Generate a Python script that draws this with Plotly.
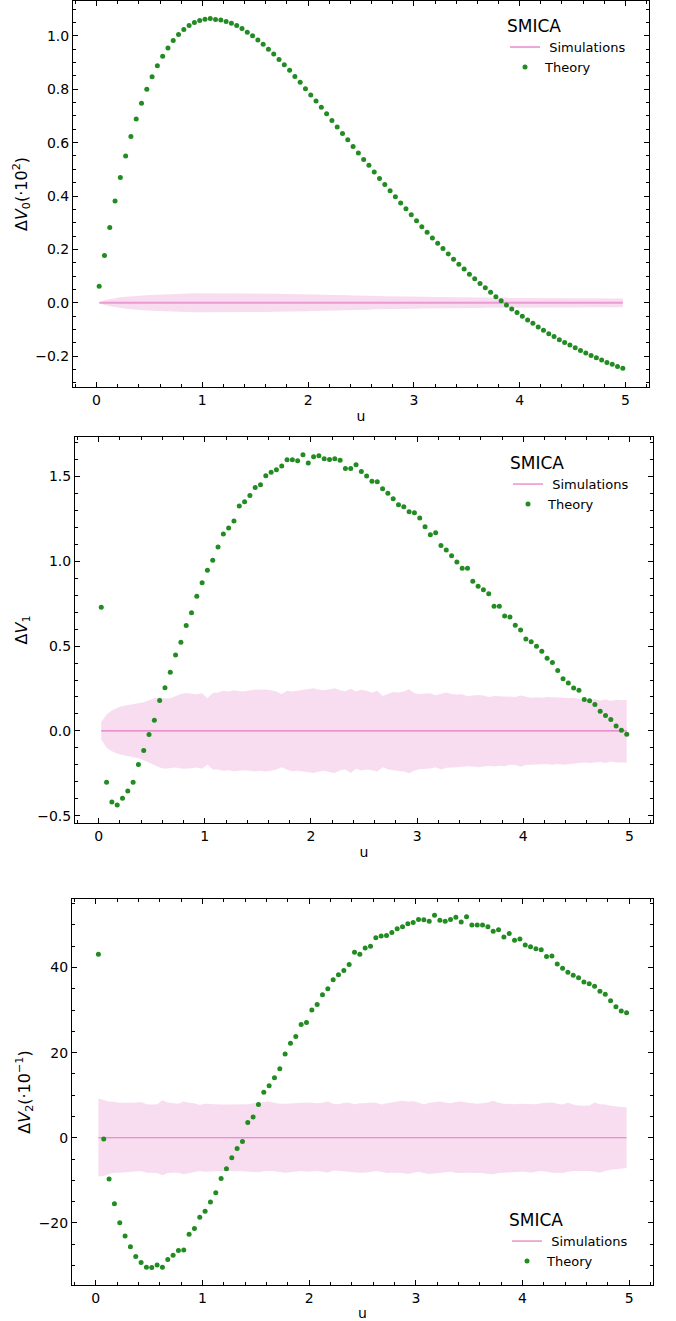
import plotly.graph_objects as go

# ---------------- data ----------------
u = [0.025, 0.075, 0.125, 0.175, 0.225, 0.275, 0.325, 0.375, 0.425, 0.475,
     0.525, 0.575, 0.625, 0.675, 0.725, 0.775, 0.825, 0.875, 0.925, 0.975,
     1.025, 1.075, 1.125, 1.175, 1.225, 1.275, 1.325, 1.375, 1.425, 1.475,
     1.525, 1.575, 1.625, 1.675, 1.725, 1.775, 1.825, 1.875, 1.925, 1.975,
     2.025, 2.075, 2.125, 2.175, 2.225, 2.275, 2.325, 2.375, 2.425, 2.475,
     2.525, 2.575, 2.625, 2.675, 2.725, 2.775, 2.825, 2.875, 2.925, 2.975,
     3.025, 3.075, 3.125, 3.175, 3.225, 3.275, 3.325, 3.375, 3.425, 3.475,
     3.525, 3.575, 3.625, 3.675, 3.725, 3.775, 3.825, 3.875, 3.925, 3.975,
     4.025, 4.075, 4.125, 4.175, 4.225, 4.275, 4.325, 4.375, 4.425, 4.475,
     4.525, 4.575, 4.625, 4.675, 4.725, 4.775, 4.825, 4.875, 4.925, 4.975]

# Panel 1: Delta V0 (x10^2)
theory_v0 = [0.062, 0.177, 0.282, 0.381, 0.469, 0.550, 0.623, 0.689, 0.748, 0.800,
             0.847, 0.888, 0.924, 0.955, 0.983, 1.005, 1.024, 1.039, 1.050, 1.058,
             1.063, 1.065, 1.062, 1.060, 1.054, 1.048, 1.039, 1.028, 1.014, 1.001,
             0.985, 0.969, 0.950, 0.932, 0.912, 0.892, 0.871, 0.848, 0.826, 0.802,
             0.779, 0.756, 0.733, 0.708, 0.683, 0.659, 0.634, 0.611, 0.586, 0.561,
             0.537, 0.515, 0.490, 0.466, 0.443, 0.420, 0.397, 0.374, 0.352, 0.330,
             0.307, 0.285, 0.264, 0.243, 0.223, 0.203, 0.183, 0.163, 0.144, 0.126,
             0.107, 0.090, 0.072, 0.056, 0.039, 0.022, 0.007, -0.009, -0.024, -0.037,
             -0.051, -0.065, -0.077, -0.091, -0.103, -0.116, -0.127, -0.139, -0.149, -0.159,
             -0.169, -0.179, -0.189, -0.198, -0.206, -0.215, -0.224, -0.231, -0.239, -0.246]
sim_mean_v0 = [0.0] * 100
sim_hi_v0 = [0.000, 0.009, 0.013, 0.017, 0.020, 0.022, 0.024, 0.026, 0.027, 0.028,
             0.029, 0.030, 0.031, 0.032, 0.033, 0.033, 0.034, 0.034, 0.035, 0.035,
             0.035, 0.035, 0.036, 0.036, 0.036, 0.036, 0.036, 0.036, 0.035, 0.035,
             0.035, 0.035, 0.034, 0.034, 0.034, 0.033, 0.033, 0.033, 0.032, 0.032,
             0.031, 0.031, 0.030, 0.030, 0.029, 0.029, 0.028, 0.028, 0.027, 0.027,
             0.026, 0.026, 0.025, 0.025, 0.024, 0.024, 0.024, 0.023, 0.023, 0.023,
             0.022, 0.022, 0.022, 0.021, 0.021, 0.021, 0.021, 0.020, 0.020, 0.020,
             0.020, 0.020, 0.019, 0.019, 0.019, 0.019, 0.019, 0.019, 0.018, 0.018,
             0.018, 0.018, 0.018, 0.018, 0.018, 0.017, 0.017, 0.017, 0.017, 0.017,
             0.017, 0.017, 0.017, 0.017, 0.017, 0.016, 0.016, 0.016, 0.016, 0.016]
sim_lo_v0 = [0.000, -0.009, -0.013, -0.017, -0.020, -0.023, -0.025, -0.027, -0.028, -0.029,
             -0.030, -0.031, -0.032, -0.033, -0.034, -0.034, -0.035, -0.035, -0.036, -0.036,
             -0.036, -0.037, -0.037, -0.037, -0.037, -0.037, -0.037, -0.036, -0.036, -0.036,
             -0.036, -0.035, -0.035, -0.034, -0.034, -0.034, -0.033, -0.033, -0.032, -0.032,
             -0.031, -0.031, -0.030, -0.030, -0.029, -0.029, -0.028, -0.028, -0.027, -0.027,
             -0.026, -0.026, -0.025, -0.025, -0.025, -0.024, -0.024, -0.024, -0.023, -0.023,
             -0.023, -0.022, -0.022, -0.022, -0.021, -0.021, -0.021, -0.021, -0.020, -0.020,
             -0.020, -0.020, -0.020, -0.019, -0.019, -0.019, -0.019, -0.019, -0.019, -0.018,
             -0.018, -0.018, -0.018, -0.018, -0.018, -0.018, -0.018, -0.017, -0.017, -0.017,
             -0.017, -0.017, -0.017, -0.017, -0.017, -0.017, -0.017, -0.017, -0.017, -0.017]

# Panel 2: Delta V1
theory_v1 = [0.729, -0.303, -0.420, -0.438, -0.397, -0.354, -0.303, -0.198, -0.116, -0.022,
             0.063, 0.179, 0.255, 0.346, 0.448, 0.523, 0.621, 0.697, 0.794, 0.874,
             0.947, 1.006, 1.084, 1.161, 1.196, 1.238, 1.326, 1.352, 1.389, 1.436,
             1.452, 1.505, 1.525, 1.540, 1.562, 1.599, 1.599, 1.593, 1.629, 1.580,
             1.617, 1.623, 1.605, 1.601, 1.605, 1.597, 1.548, 1.548, 1.570, 1.530,
             1.503, 1.472, 1.470, 1.428, 1.401, 1.369, 1.334, 1.322, 1.293, 1.287,
             1.255, 1.204, 1.157, 1.169, 1.094, 1.067, 1.033, 0.996, 0.959, 0.959,
             0.882, 0.853, 0.833, 0.809, 0.735, 0.735, 0.678, 0.672, 0.623, 0.595,
             0.542, 0.525, 0.499, 0.470, 0.428, 0.403, 0.356, 0.308, 0.283, 0.253,
             0.240, 0.185, 0.177, 0.155, 0.116, 0.090, 0.067, 0.029, 0.004, -0.020]
sim_mean_v1 = [0.0] * 100
sim_hi_v1 = [0.053, 0.096, 0.120, 0.136, 0.147, 0.153, 0.157, 0.161, 0.169, 0.181,
             0.193, 0.198, 0.191, 0.193, 0.204, 0.218, 0.224, 0.222, 0.216, 0.222,
             0.193, 0.224, 0.226, 0.236, 0.232, 0.240, 0.234, 0.234, 0.240, 0.244,
             0.242, 0.244, 0.240, 0.232, 0.218, 0.236, 0.232, 0.236, 0.240, 0.248,
             0.251, 0.242, 0.240, 0.246, 0.251, 0.240, 0.234, 0.248, 0.232, 0.242,
             0.236, 0.225, 0.236, 0.206, 0.220, 0.230, 0.226, 0.232, 0.246, 0.222,
             0.218, 0.220, 0.222, 0.210, 0.216, 0.226, 0.218, 0.214, 0.216, 0.204,
             0.208, 0.212, 0.208, 0.200, 0.206, 0.204, 0.200, 0.202, 0.200, 0.208,
             0.200, 0.196, 0.198, 0.196, 0.200, 0.198, 0.194, 0.196, 0.194, 0.196,
             0.190, 0.182, 0.184, 0.186, 0.178, 0.186, 0.176, 0.184, 0.180, 0.184]
sim_lo_v1 = [-0.051, -0.100, -0.120, -0.134, -0.143, -0.149, -0.155, -0.161, -0.173, -0.189,
             -0.204, -0.216, -0.224, -0.220, -0.216, -0.222, -0.224, -0.220, -0.216, -0.224,
             -0.198, -0.228, -0.228, -0.236, -0.232, -0.238, -0.236, -0.232, -0.236, -0.240,
             -0.236, -0.240, -0.236, -0.228, -0.214, -0.230, -0.238, -0.236, -0.240, -0.244,
             -0.248, -0.240, -0.236, -0.244, -0.248, -0.232, -0.228, -0.248, -0.224, -0.234,
             -0.228, -0.232, -0.240, -0.214, -0.226, -0.232, -0.236, -0.240, -0.250, -0.234,
             -0.226, -0.226, -0.222, -0.214, -0.228, -0.218, -0.218, -0.214, -0.212, -0.208,
             -0.210, -0.214, -0.210, -0.206, -0.210, -0.206, -0.208, -0.200, -0.202, -0.212,
             -0.202, -0.200, -0.202, -0.200, -0.196, -0.200, -0.196, -0.200, -0.196, -0.194,
             -0.192, -0.186, -0.190, -0.188, -0.184, -0.190, -0.180, -0.186, -0.184, -0.186]

# Panel 3: Delta V2 (x10^-1)
theory_v2 = [43.1, -0.3, -9.7, -15.5, -20.0, -23.1, -25.6, -27.9, -29.3, -30.4,
             -30.5, -29.9, -30.4, -28.6, -27.6, -26.5, -26.4, -22.7, -21.3, -18.7,
             -17.3, -15.1, -12.9, -9.6, -7.3, -4.7, -2.5, -0.9, 3.6, 4.9,
             7.8, 10.7, 12.2, 14.1, 16.2, 19.7, 22.2, 23.8, 26.6, 27.1,
             30.0, 31.3, 33.6, 35.0, 37.1, 38.3, 39.3, 40.7, 43.6, 43.1,
             44.6, 45.0, 47.0, 47.4, 47.5, 48.2, 49.1, 49.6, 50.3, 50.6,
             51.3, 51.2, 50.9, 52.3, 51.1, 50.9, 51.3, 51.8, 50.7, 51.9,
             50.0, 50.0, 50.0, 49.6, 48.5, 48.9, 47.2, 48.0, 46.4, 46.7,
             45.3, 44.9, 44.4, 44.2, 42.6, 42.7, 40.8, 39.8, 38.9, 38.2,
             37.6, 36.6, 36.2, 35.6, 34.4, 33.7, 32.2, 30.8, 29.8, 29.4]
sim_mean_v2 = [0.0] * 100
sim_hi_v2 = [9.2, 8.9, 8.5, 8.4, 8.2, 8.2, 8.2, 8.3, 8.4, 7.9,
             7.8, 7.9, 8.8, 8.3, 8.1, 8.0, 8.5, 8.2, 8.1, 7.7,
             8.0, 7.9, 7.8, 7.8, 7.8, 7.8, 7.8, 7.9, 7.9, 8.1,
             8.2, 8.4, 8.5, 8.2, 8.0, 8.0, 8.1, 8.1, 8.2, 8.3,
             8.2, 8.1, 8.2, 8.5, 8.0, 7.9, 8.2, 8.2, 7.9, 8.1,
             8.1, 8.3, 8.2, 7.8, 8.1, 8.3, 8.5, 8.7, 8.5, 8.6,
             8.3, 7.8, 8.2, 8.3, 8.5, 8.3, 8.1, 8.4, 8.5, 8.3,
             8.2, 8.0, 8.1, 8.3, 8.7, 8.2, 8.0, 7.9, 7.9, 8.0,
             8.0, 7.9, 7.9, 8.1, 8.2, 8.3, 8.0, 7.8, 8.2, 7.8,
             7.6, 7.5, 7.6, 8.3, 7.9, 7.8, 7.5, 7.4, 7.2, 7.1]
sim_lo_v2 = [-9.1, -9.0, -8.5, -8.2, -8.2, -8.1, -8.0, -7.9, -7.8, -8.2,
             -8.3, -8.3, -8.8, -8.3, -8.2, -8.2, -8.6, -8.3, -8.1, -7.8,
             -8.0, -7.9, -7.8, -7.8, -7.8, -7.8, -7.8, -7.9, -8.0, -8.1,
             -8.1, -7.9, -7.8, -7.9, -8.0, -8.2, -8.1, -8.0, -7.8, -8.0,
             -7.9, -7.8, -8.0, -8.2, -7.7, -7.8, -8.0, -8.0, -8.2, -8.2,
             -8.2, -8.0, -7.8, -8.0, -8.3, -8.2, -8.2, -8.3, -8.5, -8.2,
             -8.0, -8.3, -8.5, -8.4, -8.3, -8.2, -8.0, -8.2, -8.3, -8.2,
             -8.2, -8.2, -8.3, -8.5, -8.6, -8.3, -8.2, -8.1, -8.0, -8.0,
             -8.0, -8.2, -8.0, -7.8, -8.0, -8.2, -8.2, -8.3, -8.0, -7.8,
             -7.8, -7.8, -7.8, -8.0, -8.2, -7.8, -7.5, -7.4, -7.2, -7.1]

x_ticks = [0, 1, 2, 3, 4, 5]
panel_titles = ["Δ<i>V</i><sub>0</sub>(·10<sup>2</sup>)",
                "Δ<i>V</i><sub>1</sub>",
                "Δ<i>V</i><sub>2</sub>(·10<sup>−1</sup>)"]
legend_title = "SMICA"
sim_label = "\u00a0Simulations"
theory_label = "Theory"

# ---------------- styling ----------------
W, H = 676, 1321
FONT = "DejaVu Sans"
PINK = "#e377c2"
BAND = "rgba(227,119,194,0.25)"
GREEN = "#228B22"

panels = [
    dict(theory=theory_v0, mean=sim_mean_v0, hi=sim_hi_v0, lo=sim_lo_v0,
         box=(73, 649, 1, 387), yr=[-0.316, 1.131], dt=0.2, mdt=0.05, fmt=".1f",
         line=dict(color="rgba(227,119,194,0.65)", width=2), leg=(505, 10), so=3),
    dict(theory=theory_v1, mean=sim_mean_v1, hi=sim_hi_v1, lo=sim_lo_v1,
         box=(75, 653, 437, 823), yr=[-0.5435, 1.7335], dt=0.5, mdt=0.1, fmt=".1f",
         line=dict(color=PINK, width=1.2), leg=(508, 447), so=5),
    dict(theory=theory_v2, mean=sim_mean_v2, hi=sim_hi_v2, lo=sim_lo_v2,
         box=(72, 653, 899, 1285), yr=[-34.6, 56.1], dt=20, mdt=5, fmt="d",
         line=dict(color=PINK, width=1.2), leg=(507, 1204), so=4),
]

fig = go.Figure()
layout = dict(width=W, height=H, margin=dict(l=0, r=0, t=0, b=0),
              paper_bgcolor="white", plot_bgcolor="white",
              font=dict(family=FONT, size=14, color="black"),
              showlegend=True)

for i, p in enumerate(panels):
    n = "" if i == 0 else str(i + 1)
    xa, ya = "x" + n, "y" + n
    legname = "legend" + n
    fig.add_trace(go.Scatter(x=u, y=p["hi"], mode="lines", line=dict(width=0, color=BAND),
                             showlegend=False, hoverinfo="skip", xaxis=xa, yaxis=ya))
    fig.add_trace(go.Scatter(x=u, y=p["lo"], mode="lines", line=dict(width=0, color=BAND),
                             fill="tonexty", fillcolor=BAND,
                             showlegend=False, hoverinfo="skip", xaxis=xa, yaxis=ya))
    fig.add_trace(go.Scatter(x=u, y=p["mean"], mode="lines", line=p["line"],
                             name=sim_label, legend=legname, xaxis=xa, yaxis=ya))
    fig.add_trace(go.Scatter(x=u, y=p["theory"], mode="markers",
                             marker=dict(color=GREEN, size=5, line=dict(width=0)),
                             name=theory_label, legend=legname, xaxis=xa, yaxis=ya))

    l, r, t, b = p["box"]
    common = dict(showline=True, linecolor="black", linewidth=1, mirror="allticks",
                  ticks="inside", ticklen=5, tickwidth=1, tickcolor="black",
                  showgrid=False, zeroline=False,
                  tickfont=dict(family=FONT, size=14, color="black"))
    layout["xaxis" + n] = dict(common, domain=[l / W, r / W], anchor=ya,
                               range=[-0.2225, 5.2225], tickmode="array",
                               tickvals=x_ticks, ticktext=[str(v) for v in x_ticks],
                               minor=dict(dtick=0.2, tick0=0, ticks="inside", ticklen=3,
                                          tickcolor="black", tickwidth=1),
                               title=dict(text="u", font=dict(family=FONT, size=14), standoff=4))
    layout["yaxis" + n] = dict(common, domain=[1 - b / H, 1 - t / H], anchor=xa,
                               range=p["yr"], dtick=p["dt"], tick0=0, tickformat=p["fmt"],
                               minor=dict(dtick=p["mdt"], tick0=0, ticks="inside", ticklen=3,
                                          tickcolor="black", tickwidth=1),
                               title=dict(text=panel_titles[i], font=dict(family=FONT, size=16),
                                          standoff=p["so"]))
    lx, ly = p["leg"]
    layout[legname] = dict(x=lx / W, y=1 - ly / H, xanchor="left", yanchor="top",
                           bgcolor="rgba(0,0,0,0)", borderwidth=0, traceorder="normal",
                           title=dict(text=legend_title, font=dict(family=FONT, size=17)),
                           font=dict(family=FONT, size=13, color="black"),
                           itemwidth=30, tracegroupgap=0)

fig.update_layout(**layout)
fig.write_html("out.html", include_plotlyjs=True, config={"displayModeBar": False},
               post_script="document.body.style.margin='0';document.body.style.overflow='hidden';")
